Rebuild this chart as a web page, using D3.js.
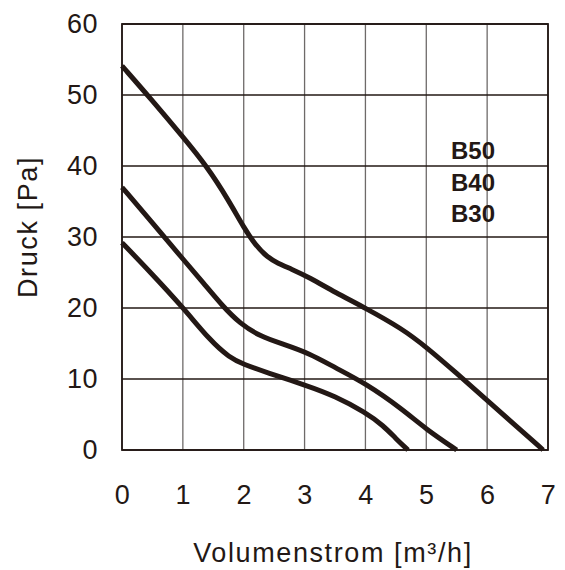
<!DOCTYPE html>
<html>
<head>
<meta charset="utf-8">
<script src="https://cdn.jsdelivr.net/npm/d3@7"></script>
<style>
  body { margin: 0; background: #fff; }
  text { font-family: "Liberation Sans", Arial, sans-serif; fill: #231815; }
</style>
</head>
<body>
<div id="chart"></div>
<script>
// chart data
const xTicks = [0, 1, 2, 3, 4, 5, 6, 7];
const yTicks = [0, 10, 20, 30, 40, 50, 60];
const seriesNames = ["B50", "B40", "B30"];

const b50 = [[0, 54.1], [0.5, 49.2], [1, 44.1], [1.39, 40], [1.75, 35.2], [2.01, 31.2], [2.2, 28.8],
             [2.38, 27.2], [2.56, 26.3], [2.78, 25.5], [3.08, 24.3], [3.5, 22.2], [4, 20], [4.6, 17.1],
             [5, 14.5], [5.5, 10.8], [6, 7.0], [6.5, 3.2], [6.92, 0]];
const b40 = [[0, 37], [0.46, 32.4], [1.01, 26.8], [1.34, 23.5], [1.66, 20.2], [1.94, 17.8], [2.27, 16.0],
             [2.65, 14.9], [3.08, 13.6], [3.5, 11.6], [4, 9.4], [4.6, 5.8], [5, 2.9], [5.5, 0]];
const b30 = [[0, 29.2], [0.46, 25.1], [1.01, 20.0], [1.45, 15.4], [1.77, 13.0], [1.99, 12.1], [2.38, 10.9],
             [3.03, 9.1], [3.5, 7.6], [4, 5.3], [4.3, 3.4], [4.5, 1.6], [4.7, 0]];

const series = [b50, b40, b30];

// dimensions
const margin = {top: 24, right: 17, bottom: 120, left: 122};
const width = 565 - margin.left - margin.right,
      height = 570 - margin.top - margin.bottom;

const svg = d3.select("#chart")
  .append("svg")
    .attr("width", 565)
    .attr("height", 570)
  .append("g")
    .attr("transform", "translate(" + margin.left + "," + margin.top + ")");

const x = d3.scaleLinear().domain([0, 7]).range([0, width]);
const y = d3.scaleLinear().domain([0, 60]).range([height, 0]);

// vertical grid (grey)
svg.append("g")
  .selectAll("line")
  .data(xTicks)
  .enter()
  .append("line")
    .attr("x1", d => x(d)).attr("x2", d => x(d))
    .attr("y1", 0).attr("y2", height)
    .attr("stroke", "#6e6a69")
    .attr("stroke-width", 1.3);

// horizontal grid (dark)
svg.append("g")
  .selectAll("line")
  .data(yTicks)
  .enter()
  .append("line")
    .attr("x1", 0).attr("x2", width)
    .attr("y1", d => y(d)).attr("y2", d => y(d))
    .attr("stroke", "#231815")
    .attr("stroke-width", 1.3);

// frame
svg.append("rect")
  .attr("x", 0).attr("y", 0)
  .attr("width", width).attr("height", height)
  .attr("fill", "none")
  .attr("stroke", "#231815")
  .attr("stroke-width", 1.8);

// axes (labels only)
const xAxis = svg.append("g")
  .attr("transform", "translate(0," + height + ")")
  .call(d3.axisBottom(x).tickValues(xTicks).tickFormat(d3.format("d")).tickSize(0).tickPadding(35));
const yAxis = svg.append("g")
  .call(d3.axisLeft(y).tickValues(yTicks).tickFormat(d3.format("d")).tickSize(0).tickPadding(24));

[xAxis, yAxis].forEach(function(a) {
  a.select(".domain").remove();
  a.selectAll(".tick text")
    .style("font-family", "'Liberation Sans', Arial, sans-serif")
    .style("font-size", "27px")
    .style("letter-spacing", "0.5px")
    .attr("fill", "#231815");
});

// curves
const line = d3.line()
  .x(d => x(d[0]))
  .y(d => y(d[1]))
  .curve(d3.curveBasis);

svg.selectAll(".curve")
  .data(series)
  .enter()
  .append("path")
    .attr("class", "curve")
    .attr("d", line)
    .attr("fill", "none")
    .attr("stroke", "#231815")
    .attr("stroke-width", 5)
    .attr("stroke-linejoin", "round");

// series labels
svg.selectAll(".lbl")
  .data(seriesNames)
  .enter()
  .append("text")
    .attr("class", "lbl")
    .attr("x", 329)
    .attr("y", (d, i) => 135 + i * 31.6)
    .style("font-size", "24px")
    .style("font-weight", "bold")
    .text(d => d);

// axis titles
svg.append("text")
  .attr("x", x(3.5) - 2)
  .attr("y", 538)
  .attr("text-anchor", "middle")
  .style("font-size", "27px")
  .style("letter-spacing", "1.6px")
  .text("Volumenstrom [m³/h]");

svg.append("text")
  .attr("transform", "translate(-85," + (height / 2 - 10) + ") rotate(-90)")
  .attr("text-anchor", "middle")
  .style("font-size", "27px")
  .style("letter-spacing", "1.6px")
  .text("Druck [Pa]");
</script>
</body>
</html>
